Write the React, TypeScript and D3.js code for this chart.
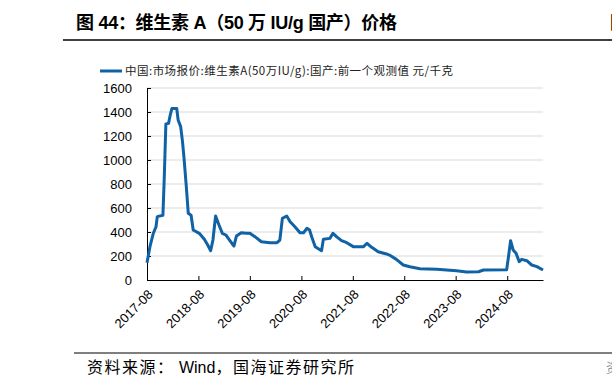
import * as d3 from "d3";
import { useEffect, useRef } from "react";

// 维生素A(50万IU/g) 国产 报价, 元/千克
const dates = [
  "2017-08-01", "2017-08-22", "2017-09-15", "2017-10-04", "2017-10-13", "2017-11-22",
  "2017-12-01", "2017-12-13", "2018-01-01", "2018-01-13", "2018-01-25", "2018-02-28",
  "2018-03-10", "2018-03-28", "2018-04-10", "2018-04-21", "2018-05-07", "2018-05-21",
  "2018-06-10", "2018-06-25", "2018-08-07", "2018-09-12", "2018-10-06", "2018-10-27",
  "2018-11-12", "2018-12-01", "2018-12-25", "2019-01-18", "2019-02-12", "2019-03-10",
  "2019-04-10", "2019-04-28", "2019-06-01", "2019-07-06", "2019-08-01", "2019-09-06",
  "2019-10-22", "2019-12-22", "2020-02-10", "2020-03-01", "2020-03-19", "2020-04-19",
  "2020-05-13", "2020-06-16", "2020-07-22", "2020-08-16", "2020-09-10", "2020-09-28",
  "2020-10-13", "2020-11-07", "2020-12-22", "2021-01-04", "2021-02-19", "2021-03-13",
  "2021-04-07", "2021-05-13", "2021-06-19", "2021-08-04", "2021-10-16", "2021-11-10",
  "2021-12-13", "2022-01-28", "2022-03-28", "2022-04-18", "2022-06-06", "2022-07-25",
  "2022-09-10", "2022-11-20", "2023-03-20", "2023-08-07", "2023-10-18", "2024-01-10",
  "2024-02-15", "2024-07-28", "2024-08-10", "2024-08-25", "2024-09-12", "2024-10-03",
  "2024-10-25", "2024-11-12", "2024-12-18", "2025-01-22", "2025-02-28", "2025-04-12",
];
const prices = [
  144, 278, 390, 444, 528, 540,
  833, 1300, 1305, 1375, 1430, 1430,
  1333, 1278, 1153, 1014, 778, 556,
  540, 417, 389, 339, 292, 244,
  333, 533, 458, 389, 375, 333,
  283, 367, 394, 389, 389, 361,
  319, 311, 311, 333, 514, 533,
  486, 444, 394, 394, 431, 417,
  361, 278, 244, 339, 347, 389,
  361, 328, 311, 278, 278, 306,
  272, 236, 217, 208, 172, 125,
  111, 94, 89, 78, 67, 69,
  83, 86, 194, 328, 250, 222,
  153, 172, 161, 125, 111, 83,
];
const yTicks = [0, 200, 400, 600, 800, 1000, 1200, 1400, 1600];
const xTickLabels = ["2017-08", "2018-08", "2019-08", "2020-08", "2021-08", "2022-08", "2023-08", "2024-08"];

const title = "图 44：维生素 A（50 万 IU/g 国产）价格";
const legendLabel = "中国:市场报价:维生素A(50万IU/g):国产:前一个观测值 元/千克";
const sourceParts = ["资料来源：", " Wind", "，国海证券研究所"];

const W = 612;
const H = 389;
const plot = { left: 147, right: 543, top: 88, bottom: 280 };
const lineColor = "#0f62a6";
const latin = "'Liberation Sans', Arial, 'Noto Sans CJK SC', sans-serif";
const cjk = "'Noto Sans CJK SC', sans-serif";

const App = () => {
  const xAxisRef = useRef<SVGGElement>(null);
  const yAxisRef = useRef<SVGGElement>(null);

  const parse = d3.timeParse("%Y-%m-%d");
  const data = dates.map((d, i) => ({ date: parse(d) as Date, value: prices[i] }));

  const x = d3
    .scaleTime()
    .domain([parse(dates[0]) as Date, parse(dates[dates.length - 1]) as Date])
    .range([plot.left, plot.right]);
  const y = d3.scaleLinear().domain([0, 1600]).range([plot.bottom, plot.top]);

  const tickDates = xTickLabels.map((t) => d3.timeParse("%Y-%m")(t) as Date);

  const line = d3
    .line<{ date: Date; value: number }>()
    .x((d) => x(d.date))
    .y((d) => y(d.value));

  useEffect(() => {
    const xa = d3
      .axisBottom(x)
      .tickValues(tickDates)
      .tickSizeInner(-4)
      .tickSizeOuter(0)
      .tickFormat((d) => d3.timeFormat("%Y-%m")(d as Date));
    const gx = d3.select(xAxisRef.current!);
    gx.call(xa as any);
    gx.select(".domain").attr("stroke", "#000").attr("stroke-width", 1);
    gx.selectAll(".tick line").attr("stroke", "#000");
    gx.selectAll(".tick text")
      .attr("font-family", latin)
      .attr("font-size", 13)
      .attr("fill", "#000")
      .attr("text-anchor", "end")
      .attr("transform", "translate(3,12) rotate(-45)")
      .attr("dy", "0.35em")
      .attr("y", 0)
      .attr("x", 0);

    const ya = d3
      .axisLeft(y)
      .tickValues(yTicks)
      .tickSizeInner(-4)
      .tickSizeOuter(0)
      .tickPadding(15)
      .tickFormat((d) => `${d}`);
    const gy = d3.select(yAxisRef.current!);
    gy.call(ya as any);
    gy.select(".domain").attr("stroke", "#000").attr("stroke-width", 1);
    gy.selectAll(".tick line").attr("stroke", "#000");
    gy.selectAll(".tick text")
      .attr("font-family", latin)
      .attr("font-size", 13)
      .attr("fill", "#000");
  }, []);

  return (
    <svg
      width={W}
      height={H}
      style={{ position: "absolute", left: 0, top: 0, background: "#fff" }}
    >
      <text x={76} y={29} fontFamily={latin} fontWeight="bold" fontSize={18} fill="#000" textLength={321} lengthAdjust="spacing">
        {title}
      </text>
      <text x={610} y={29} fontFamily={cjk} fontWeight="bold" fontSize={18} fill="#000">
        图
      </text>
      <line x1={63} x2={W} y1={40} y2={40} stroke="#000" strokeWidth={1.5} />

      {/* legend */}
      <line x1={100} x2={122} y1={71} y2={71} stroke={lineColor} strokeWidth={3} />
      <text x={125} y={75} fontFamily={cjk} fontSize={11.5} fill="#222" textLength={328} lengthAdjust="spacing">
        {legendLabel}
      </text>

      {/* grid */}
      {yTicks.slice(1).map((t) => (
        <line key={t} x1={plot.left} x2={plot.right} y1={y(t)} y2={y(t)} stroke="#d9d9d9" strokeWidth={1} />
      ))}

      <g ref={xAxisRef} transform={`translate(0,${plot.bottom})`} />
      <g ref={yAxisRef} transform={`translate(${plot.left},0)`} />

      <path
        d={line(data) ?? ""}
        fill="none"
        stroke={lineColor}
        strokeWidth={3}
        strokeLinejoin="round"
      />

      <line x1={74} x2={W} y1={353} y2={353} stroke="#000" strokeWidth={1.2} />
      <text x={87} y={373} fontSize={16} fill="#000">
        <tspan fontFamily={cjk} letterSpacing={1.5}>{sourceParts[0]}</tspan>
        <tspan fontFamily={latin}>{sourceParts[1]}</tspan>
        <tspan fontFamily={cjk} letterSpacing={1.5}>{sourceParts[2]}</tspan>
      </text>
      <text x={606} y={372} fontFamily={cjk} fontSize={13} fill="#999">
        资
      </text>
    </svg>
  );
};

export default App;
